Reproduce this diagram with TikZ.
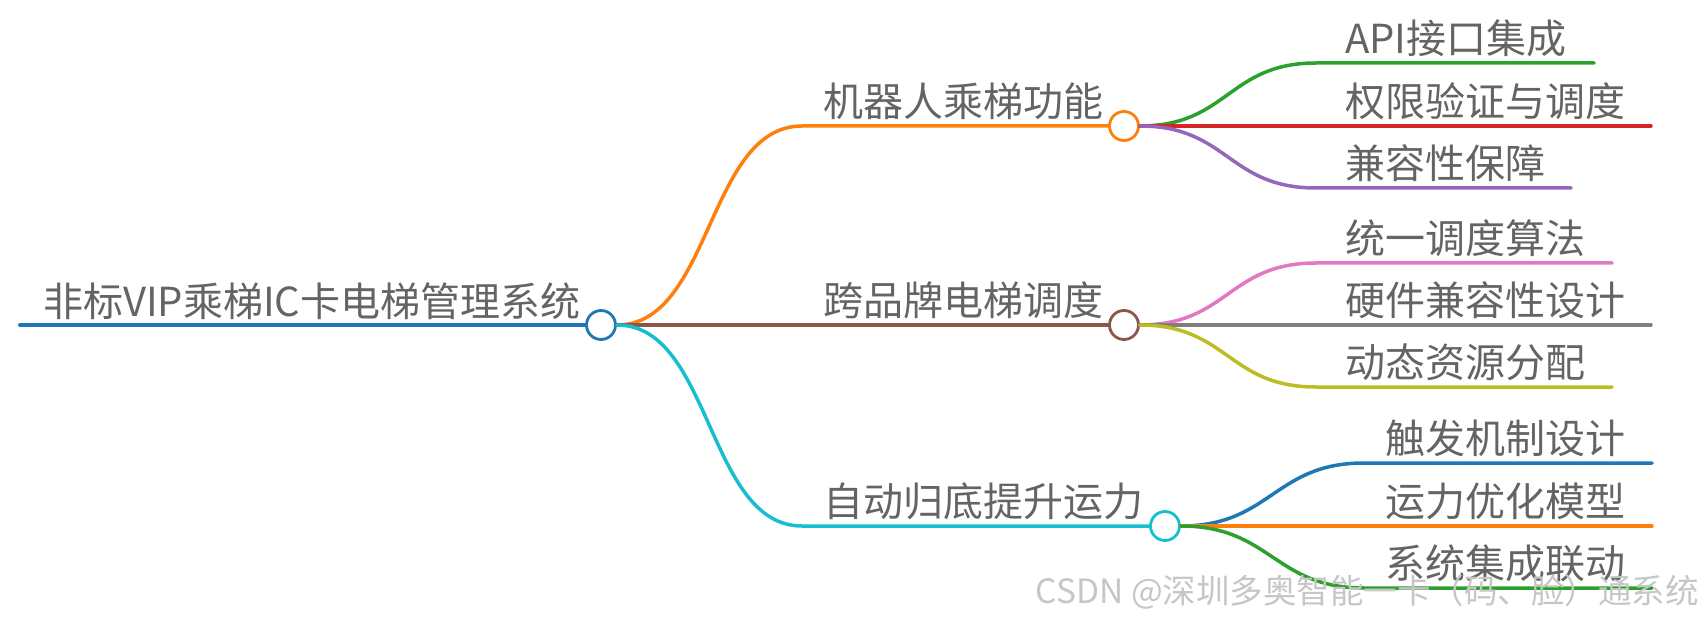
\documentclass[tikz,border=0pt]{standalone}
\usepackage{fontspec}
\setmainfont{Noto Sans CJK SC}
\usepackage{xcolor}
\usetikzlibrary{positioning}

\definecolor{tblue}{HTML}{1F77B4}
\definecolor{torange}{HTML}{FF7F0E}
\definecolor{tgreen}{HTML}{2CA02C}
\definecolor{tred}{HTML}{D62728}
\definecolor{tpurple}{HTML}{9467BD}
\definecolor{tbrown}{HTML}{8C564B}
\definecolor{tpink}{HTML}{E377C2}
\definecolor{tgray}{HTML}{7F7F7F}
\definecolor{tolive}{HTML}{BCBD22}
\definecolor{tcyan}{HTML}{17BECF}
\definecolor{testogrigio}{RGB}{100,100,100}

\begin{document}
\begin{tikzpicture}[x=1pt, y=-1pt, line cap=round, line join=round,
    ramo/.style={line width=3.5pt},
    nodo/.style={circle, draw, fill=white, line width=2.8pt, minimum size=29pt, inner sep=0pt},
    testo/.style={anchor=south west, inner sep=0pt, text=testogrigio, font=\fontsize{40}{42}\selectfont}]

\useasboundingbox (0,0) rectangle (1705,620);

% Radice
\node[testo] (radice) at (43,320) {非标VIP乘梯IC卡电梯管理系统};
\coordinate (r0) at (20,325);
\node[nodo, draw=tblue] (pr) at (601,325) {};
\draw[ramo, tblue, line width=4pt] (r0) -- (pr.west);

% Primo livello
\node[testo] (t1) at (823,120) {机器人乘梯功能};
\node[testo] (t2) at (823,319) {跨品牌电梯调度};
\node[testo] (t3) at (823,520) {自动归底提升运力};
\node[nodo, draw=torange] (p1) at (1124,126) {};
\node[nodo, draw=tbrown] (p2) at (1124,325) {};
\node[nodo, draw=tcyan] (p3) at (1165,526) {};
\coordinate (c1) at (802,126);
\coordinate (c3) at (802,526);

\draw[ramo, torange] (pr.east) .. controls +(95,0) and +(-95,0) .. (c1) -- (p1.west);
\draw[ramo, tbrown] (pr.east) -- (p2.west);
\draw[ramo, tcyan] (pr.east) .. controls +(95,0) and +(-95,0) .. (c3) -- (p3.west);

% Secondo livello
\foreach \i/\y/\xe/\col/\txt in {1/63/1594/tgreen/API接口集成,
    2/126/1651/tred/权限验证与调度,
    3/188/1571/tpurple/兼容性保障}{
  \node[testo] (ta\i) at (1345,\y-6) {\txt};
  \coordinate (ca\i) at (1316,\y);
  \coordinate (ea\i) at (\xe,\y);
  \draw[ramo, \col] (p1.east) .. controls +(88,0) and +(-88,0) .. (ca\i) -- (ea\i);
}
\foreach \i/\y/\xe/\col/\txt in {1/263/1612/tpink/统一调度算法,
    2/325/1651/tgray/硬件兼容性设计,
    3/387/1612/tolive/动态资源分配}{
  \node[testo] (tb\i) at (1345,\y-6) {\txt};
  \coordinate (cb\i) at (1316,\y);
  \coordinate (eb\i) at (\xe,\y);
  \draw[ramo, \col] (p2.east) .. controls +(88,0) and +(-88,0) .. (cb\i) -- (eb\i);
}
\foreach \i/\y/\xe/\col/\txt in {1/463/1652/tblue/触发机制设计,
    2/526/1652/torange/运力优化模型,
    3/588/1652/tgreen/系统集成联动}{
  \node[testo] (tc\i) at (1385,\y-6) {\txt};
  \coordinate (cc\i) at (1364,\y);
  \coordinate (ec\i) at (\xe,\y);
  \draw[ramo, \col] (p3.east) .. controls +(90,0) and +(-90,0) .. (cc\i) -- (ec\i);
}

% Filigrana
\node[anchor=base east, inner sep=0pt, text=gray!45, font=\fontsize{33.5}{35}\selectfont] (filigrana) at (1699,603) {CSDN @深圳多奥智能一卡（码、脸）通系统};

\end{tikzpicture}
\end{document}
